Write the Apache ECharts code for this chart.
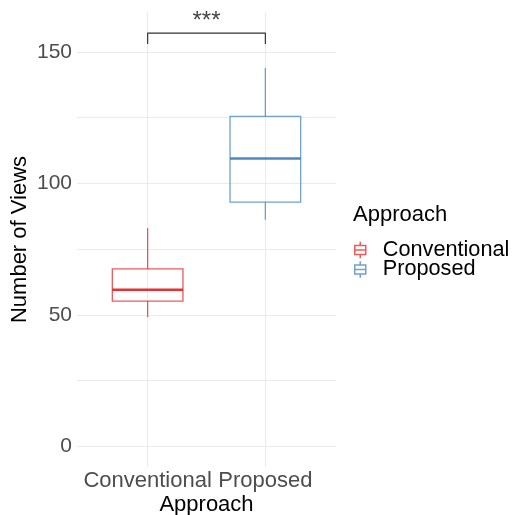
<!DOCTYPE html>
<html>
<head>
<meta charset="utf-8">
<script src="https://cdn.jsdelivr.net/npm/echarts@6/dist/echarts.min.js"></script>
<style>html,body{margin:0;padding:0;background:#fff}#c{width:514px;height:515px}</style>
</head>
<body>
<div id="c"></div>
<script>
// ---- data ----
const categories = ['Conventional', 'Proposed'];
// [min, Q1, median, Q3, max]
const conventionalBox = [49.2, 55.3, 59.6, 67.5, 83.0];
const proposedBox = [86.2, 92.9, 109.5, 125.5, 143.9];
const yTickLabels = [0, 50, 100, 150];
const yGridValues = [0, 25, 50, 75, 100, 125, 150];
const bracketTop = 157.2;
const bracketTip = 153.0;
const signifLabel = '***';
const colors = ['#E41A1C', '#377EB8'];
const colorsLight = ['rgba(228,26,28,0.72)', 'rgba(55,126,184,0.72)'];

const FONT = 'Liberation Sans';
const chart = echarts.init(document.getElementById('c'), null, {renderer: 'canvas'});
const xPos = categories.map((c, i) => i + 1);
const boxes = [conventionalBox, proposedBox];
const BOX_W = 0.6; // in category units
const iconPath = 'path://M5,0L5,3.5M0,3.5L10,3.5L10,11.5L0,11.5ZM0,7.5L10,7.5M5,11.5L5,15';

function makeRender(i) {
  return function (params, api) {
    const x = api.value(0);
    const lo = api.coord([x, api.value(1)]);
    const q1 = api.coord([x, api.value(2)]);
    const md = api.coord([x, api.value(3)]);
    const q3 = api.coord([x, api.value(4)]);
    const hi = api.coord([x, api.value(5)]);
    const half = api.size([BOX_W, 0])[0] / 2;
    const thin = {stroke: colorsLight[i], lineWidth: 1.3, fill: null};
    return {
      type: 'group',
      children: [
        {type: 'line', shape: {x1: lo[0], y1: lo[1], x2: q1[0], y2: q1[1]}, style: thin},
        {type: 'line', shape: {x1: q3[0], y1: q3[1], x2: hi[0], y2: hi[1]}, style: thin},
        {type: 'rect', shape: {x: q3[0] - half, y: q3[1], width: half * 2, height: q1[1] - q3[1]},
          style: {stroke: colorsLight[i], lineWidth: 1.3, fill: 'rgba(255,255,255,0)'}},
        {type: 'line', shape: {x1: md[0] - half, y1: md[1], x2: md[0] + half, y2: md[1]},
          style: {stroke: colors[i], lineWidth: 2.3, opacity: 0.9}}
      ]
    };
  };
}

const series = [];
categories.forEach((name, i) => {
  series.push({
    name: name,
    type: 'custom',
    xAxisIndex: 0, yAxisIndex: 0,
    silent: true,
    itemStyle: {color: '#fff', borderColor: colorsLight[i]},
    encode: {x: 0, y: [1, 2, 3, 4, 5]},
    renderItem: makeRender(i),
    data: [[xPos[i]].concat(boxes[i])]
  });
});
series.push({
  type: 'line', xAxisIndex: 0, yAxisIndex: 0, symbol: 'none', silent: true,
  lineStyle: {color: '#333', width: 1.2},
  data: [[xPos[0], bracketTip], [xPos[0], bracketTop], [xPos[1], bracketTop], [xPos[1], bracketTip]],
  z: 5
});
series.push({
  type: 'scatter', xAxisIndex: 0, yAxisIndex: 0, symbolSize: 0, silent: true,
  data: [[(xPos[0] + xPos[1]) / 2, bracketTop]],
  label: {show: true, position: 'top', distance: 0, formatter: signifLabel,
    fontFamily: FONT, fontSize: 24, color: '#111'}
});

chart.setOption({
  animation: false,
  backgroundColor: '#fff',
  title: {
    text: 'Approach', left: 353, top: 204, padding: 0,
    textStyle: {fontFamily: FONT, fontSize: 22, fontWeight: 'normal', color: '#000'}
  },
  legend: {
    orient: 'vertical', left: 354, top: 239, itemGap: -2.5, padding: 0,
    itemWidth: 11, itemHeight: 17,
    data: categories.map((c, i) => ({name: c, icon: iconPath,
      itemStyle: {color: '#fff', borderColor: colorsLight[i], borderWidth: 1.5}})),
    textStyle: {fontFamily: FONT, fontSize: 21.7, color: '#000', lineHeight: 18.5, padding: [0, 0, 0, 12]},
    selectedMode: false
  },
  grid: {left: 77, right: 178, top: 12.3, bottom: 48.3, containLabel: false, outerBoundsMode: 'none'},
  xAxis: [{
    type: 'value', min: 0.4, max: 2.6,
    name: 'Approach', nameLocation: 'middle', nameGap: 27, nameMoveOverlap: false,
    nameTextStyle: {fontFamily: FONT, fontSize: 22, color: '#000'},
    axisLine: {show: false},
    axisTick: {show: false, customValues: xPos},
    axisLabel: {customValues: xPos, formatter: v => categories[Math.round(v) - 1] || '',
      fontFamily: FONT, fontSize: 22, color: '#4D4D4D', margin: 3},
    splitLine: {show: true, lineStyle: {color: '#EBEBEB', width: 1}}
  }],
  yAxis: [{
    type: 'value', min: -7.7, max: 165.1,
    name: 'Number of Views', nameLocation: 'middle', nameGap: 46, nameMoveOverlap: false,
    nameTextStyle: {fontFamily: FONT, fontSize: 22, color: '#000'},
    axisLine: {show: false},
    axisTick: {show: false, customValues: yGridValues},
    axisLabel: {customValues: yTickLabels, fontFamily: FONT, fontSize: 21, color: '#4D4D4D', margin: 5},
    splitLine: {show: true, lineStyle: {color: '#EBEBEB', width: 1}}
  }],
  series: series
});
</script>
</body>
</html>
